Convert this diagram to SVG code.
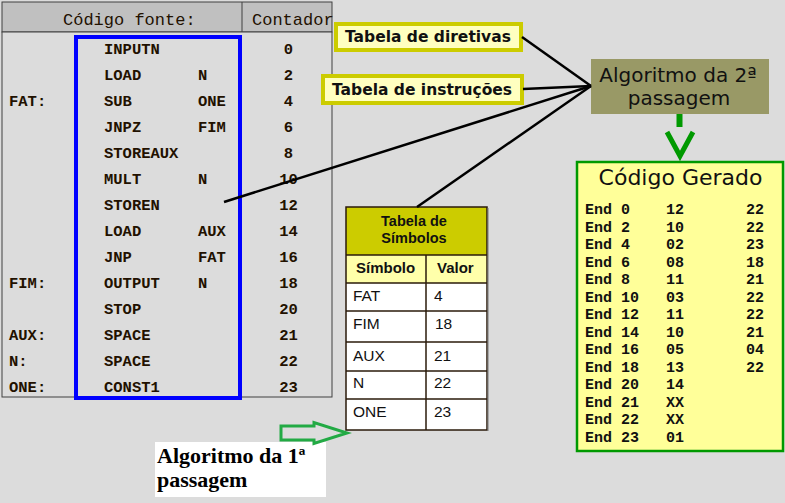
<svg xmlns="http://www.w3.org/2000/svg" width="785" height="503" viewBox="0 0 785 503">
<style>
.mono{font-family:"Liberation Mono","Courier New",monospace;fill:#221100}
.src{font-size:15.5px;font-weight:bold}
.hdr{font-size:17px}
.cnt{text-anchor:middle}
.gen{font-family:"Liberation Mono","DejaVu Sans Mono",monospace;font-size:15px;font-weight:bold;fill:#111;white-space:pre}
.dv{font-family:"DejaVu Sans","Verdana",sans-serif;fill:#111}
.ar{font-family:"Liberation Sans",Arial,sans-serif;fill:#111}
.conn{stroke:#000;stroke-width:2.5;fill:none}
.ybox{fill:#ffffc0;stroke:#cccc00;stroke-width:4}
</style>
<rect x="0" y="0" width="785" height="503" fill="#dcdcdc"/>

<g id="codigo-fonte">
  <rect x="2" y="2" width="330" height="30" fill="#c0c0c0" stroke="#404040" stroke-width="1"/>
  <rect x="2" y="32" width="330" height="365" fill="#dcdcdc" stroke="#404040" stroke-width="1"/>
  <line x1="242" y1="2" x2="242" y2="32" stroke="#404040" stroke-width="1"/>
  <text class="mono hdr" x="63" y="25">Código fonte:</text>
  <text class="mono hdr" x="252" y="25">Contador</text>
  <g class="mono src">
    <text x="104" y="54">INPUTN</text><text class="cnt" x="288.5" y="54">0</text>
    <text x="104" y="80">LOAD</text><text x="198" y="80">N</text><text class="cnt" x="288.5" y="80">2</text>
    <text x="9" y="106">FAT:</text><text x="104" y="106">SUB</text><text x="198" y="106">ONE</text><text class="cnt" x="288.5" y="106">4</text>
    <text x="104" y="132">JNPZ</text><text x="198" y="132">FIM</text><text class="cnt" x="288.5" y="132">6</text>
    <text x="104" y="158">STOREAUX</text><text class="cnt" x="288.5" y="158">8</text>
    <text x="104" y="184">MULT</text><text x="198" y="184">N</text><text class="cnt" x="288.5" y="184">10</text>
    <text x="104" y="210">STOREN</text><text class="cnt" x="288.5" y="210">12</text>
    <text x="104" y="236">LOAD</text><text x="198" y="236">AUX</text><text class="cnt" x="288.5" y="236">14</text>
    <text x="104" y="262">JNP</text><text x="198" y="262">FAT</text><text class="cnt" x="288.5" y="262">16</text>
    <text x="9" y="288">FIM:</text><text x="104" y="288">OUTPUT</text><text x="198" y="288">N</text><text class="cnt" x="288.5" y="288">18</text>
    <text x="104" y="314">STOP</text><text class="cnt" x="288.5" y="314">20</text>
    <text x="9" y="340">AUX:</text><text x="104" y="340">SPACE</text><text class="cnt" x="288.5" y="340">21</text>
    <text x="9" y="366">N:</text><text x="104" y="366">SPACE</text><text class="cnt" x="288.5" y="366">22</text>
    <text x="9" y="392">ONE:</text><text x="104" y="392">CONST1</text><text class="cnt" x="288.5" y="392">23</text>
  </g>
  <rect x="76" y="37" width="164" height="361" fill="none" stroke="#0000ff" stroke-width="4"/>
</g>

<g id="tabela-diretivas">
  <rect class="ybox" x="336" y="24" width="185" height="26"/>
  <text class="dv" x="345" y="42" font-size="15.5" font-weight="bold">Tabela de diretivas</text>
</g>

<g id="tabela-instrucoes">
  <rect class="ybox" x="323" y="76" width="199" height="27"/>
  <text class="dv" x="332" y="95" font-size="15.5" font-weight="bold">Tabela de instruções</text>
</g>

<g id="algoritmo-2">
  <rect x="591" y="59" width="178" height="55" fill="#999966"/>
  <text class="dv" x="678" y="82" font-size="20" text-anchor="middle">Algoritmo da 2ª</text>
  <text class="dv" x="679" y="105" font-size="20" text-anchor="middle">passagem</text>
</g>

<g id="tabela-simbolos">
  <rect x="346" y="207" width="141" height="48" fill="#cccc00"/>
  <rect x="346" y="255" width="141" height="28" fill="#ffffaa"/>
  <rect x="346" y="283" width="141" height="147" fill="#ffffff"/>
  <g stroke="#2a1a0a" stroke-width="1.5" fill="none">
    <rect x="346" y="207" width="141" height="223"/>
    <line x1="346" y1="255" x2="487" y2="255"/>
    <line x1="346" y1="283" x2="487" y2="283"/>
    <line x1="346" y1="311" x2="487" y2="311"/>
    <line x1="346" y1="342" x2="487" y2="342"/>
    <line x1="346" y1="371" x2="487" y2="371"/>
    <line x1="346" y1="399" x2="487" y2="399"/>
    <line x1="426" y1="255" x2="426" y2="430"/>
  </g>
  <line x1="488" y1="208" x2="488" y2="431" stroke="#777" stroke-width="1"/>
  <text class="ar" x="414" y="226" font-size="14.5" font-weight="bold" text-anchor="middle">Tabela de</text>
  <text class="ar" x="414" y="243" font-size="14.5" font-weight="bold" text-anchor="middle">Símbolos</text>
  <text class="ar" x="356" y="273" font-size="15" font-weight="bold">Símbolo</text>
  <text class="ar" x="437" y="273" font-size="15" font-weight="bold">Valor</text>
  <g class="ar" font-size="15.5">
    <text x="353" y="301">FAT</text><text x="434" y="301">4</text>
    <text x="353" y="329">FIM</text><text x="435" y="329">18</text>
    <text x="353" y="361">AUX</text><text x="434" y="361">21</text>
    <text x="353" y="388">N</text><text x="434" y="388">22</text>
    <text x="353" y="417">ONE</text><text x="434" y="417">23</text>
  </g>
</g>

<g id="algoritmo-1">
  <rect x="155" y="442" width="171" height="55" fill="#ffffff"/>
  <text x="157" y="463" font-family="'Liberation Serif','Times New Roman',serif" font-size="22" font-weight="bold" fill="#000">Algoritmo da 1ª</text>
  <text x="157" y="487" font-family="'Liberation Serif','Times New Roman',serif" font-size="22" font-weight="bold" fill="#000">passagem</text>
</g>

<g id="codigo-gerado">
  <rect x="577" y="162" width="206" height="289" fill="#ffff99" stroke="#009900" stroke-width="2.5"/>
  <text class="dv" x="680.5" y="185" font-size="22" text-anchor="middle">Código Gerado</text>
  <g class="gen">
    <text x="585" y="214.3">End 0</text><text x="666" y="214.3">12</text><text x="746" y="214.3">22</text>
    <text x="585" y="231.8">End 2</text><text x="666" y="231.8">10</text><text x="746" y="231.8">22</text>
    <text x="585" y="249.3">End 4</text><text x="666" y="249.3">02</text><text x="746" y="249.3">23</text>
    <text x="585" y="266.8">End 6</text><text x="666" y="266.8">08</text><text x="746" y="266.8">18</text>
    <text x="585" y="284.3">End 8</text><text x="666" y="284.3">11</text><text x="746" y="284.3">21</text>
    <text x="585" y="301.8">End 10</text><text x="666" y="301.8">03</text><text x="746" y="301.8">22</text>
    <text x="585" y="319.3">End 12</text><text x="666" y="319.3">11</text><text x="746" y="319.3">22</text>
    <text x="585" y="336.8">End 14</text><text x="666" y="336.8">10</text><text x="746" y="336.8">21</text>
    <text x="585" y="354.3">End 16</text><text x="666" y="354.3">05</text><text x="746" y="354.3">04</text>
    <text x="585" y="371.8">End 18</text><text x="666" y="371.8">13</text><text x="746" y="371.8">22</text>
    <text x="585" y="389.3">End 20</text><text x="666" y="389.3">14</text>
    <text x="585" y="406.8">End 21</text><text x="666" y="406.8">XX</text>
    <text x="585" y="424.3">End 22</text><text x="666" y="424.3">XX</text>
    <text x="585" y="441.8">End 23</text><text x="666" y="441.8">01</text>
  </g>
</g>

<g id="connectors">
  <line class="conn" x1="522" y1="37" x2="591" y2="86"/>
  <line class="conn" x1="523" y1="89" x2="591" y2="86"/>
  <line class="conn" x1="224" y1="202" x2="591" y2="86"/>
  <line class="conn" x1="417" y1="207" x2="591" y2="86"/>
  <line x1="679.5" y1="114" x2="679.5" y2="127" stroke="#009900" stroke-width="6"/>
  <polyline points="667,132 680,156 693,132" fill="none" stroke="#009900" stroke-width="5"/>
  <path d="M281,426 H314 V422.5 L347,433 L314,443.5 V440 H281 Z" fill="none" stroke="#22aa44" stroke-width="3" stroke-linejoin="miter"/>
</g>
</svg>
